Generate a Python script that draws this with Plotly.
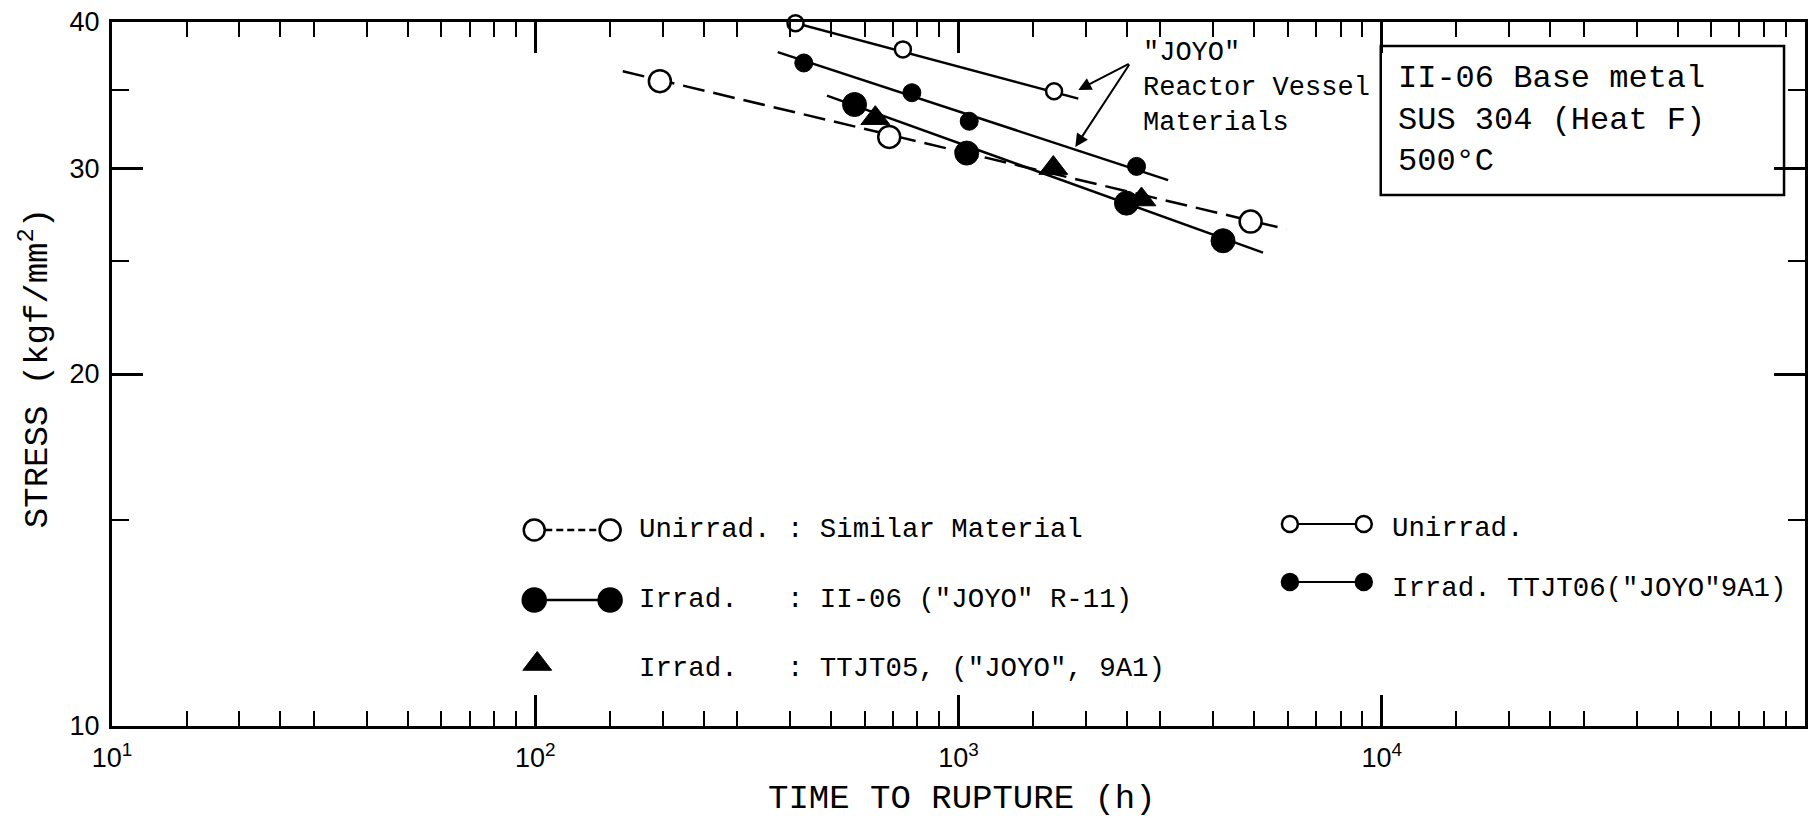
import plotly.graph_objects as go

# ---------------- data ----------------
# Unirradiated, similar material (large open circles, dashed fit)
sim_t = [197, 686, 4900]
sim_s = [35.6, 31.9, 27.0]
sim_fit_t = [161, 5950]
sim_fit_s = [36.3, 26.6]

# Unirradiated "JOYO" reactor vessel material (small open circles, solid fit)
joyo_unirr_t = [412, 739, 1682]
joyo_unirr_s = [39.9, 37.9, 34.9]
joyo_unirr_fit_t = [373, 1919]
joyo_unirr_fit_s = [40.3, 34.4]

# Irradiated TTJT06 ("JOYO" 9A1) (small filled circles, solid fit)
ttjt06_t = [431, 776, 1060, 2634]
ttjt06_s = [36.9, 34.8, 32.9, 30.1]
ttjt06_fit_t = [374, 3128]
ttjt06_fit_s = [37.7, 29.3]

# Irradiated II-06 ("JOYO" R-11) (large filled circles, solid fit)
ii06_t = [568, 1046, 2494, 4217]
ii06_s = [34.0, 30.9, 28.0, 26.0]
ii06_fit_t = [489, 5241]
ii06_fit_s = [34.6, 25.4]

# Irradiated TTJT05 ("JOYO", 9A1) (filled triangles)
ttjt05_t = [636, 1675, 2706]
ttjt05_s = [33.1, 30.0, 28.2]

x_major_vals = [10, 100, 1000, 10000]
x_major_text = ["10<sup>1</sup>", "10<sup>2</sup>", "10<sup>3</sup>", "10<sup>4</sup>"]
x_minor_mult = [1.5, 2, 2.5, 3, 4, 5, 6, 7, 8, 9]
y_major_vals = [10, 20, 30, 40]
y_major_text = ["10", "20", "30", "40"]
y_minor_vals = [15, 25, 35]

# ---------------- layout geometry (pixels) ----------------
W, H = 1815, 818
PL, PR, PT, PB = 112, 1808, 22, 726

def px(x):
    return (x - PL) / (PR - PL)

def py(y):
    return (PB - y) / (PB - PT)

MONO = "Liberation Mono, Courier New, monospace"
SANS = "Liberation Sans, Arial, sans-serif"
BLACK = "black"

fig = go.Figure()

# fitted lines
fig.add_trace(go.Scatter(x=sim_fit_t, y=sim_fit_s, mode="lines",
                         line=dict(color=BLACK, width=2.5, dash="22px,9px")))
fig.add_trace(go.Scatter(x=joyo_unirr_fit_t, y=joyo_unirr_fit_s, mode="lines",
                         line=dict(color=BLACK, width=2.5)))
fig.add_trace(go.Scatter(x=ttjt06_fit_t, y=ttjt06_fit_s, mode="lines",
                         line=dict(color=BLACK, width=2.5)))
fig.add_trace(go.Scatter(x=ii06_fit_t, y=ii06_fit_s, mode="lines",
                         line=dict(color=BLACK, width=2.5)))

# markers
fig.add_trace(go.Scatter(x=sim_t, y=sim_s, mode="markers", cliponaxis=False,
                         marker=dict(symbol="circle", size=22, color="white",
                                     line=dict(color=BLACK, width=2.5))))
fig.add_trace(go.Scatter(x=joyo_unirr_t, y=joyo_unirr_s, mode="markers", cliponaxis=False,
                         marker=dict(symbol="circle", size=16, color="white",
                                     line=dict(color=BLACK, width=2.5))))
fig.add_trace(go.Scatter(x=ttjt06_t, y=ttjt06_s, mode="markers", cliponaxis=False,
                         marker=dict(symbol="circle", size=18, color=BLACK,
                                     line=dict(color=BLACK, width=1))))
fig.add_trace(go.Scatter(x=ii06_t, y=ii06_s, mode="markers", cliponaxis=False,
                         marker=dict(symbol="circle", size=24, color=BLACK,
                                     line=dict(color=BLACK, width=1))))
fig.add_trace(go.Scatter(x=ttjt05_t, y=ttjt05_s, mode="markers", cliponaxis=False,
                         marker=dict(symbol="triangle-up", size=25, color=BLACK,
                                     line=dict(color=BLACK, width=1))))

# ---------------- legend glyphs (overlay axis in pixel units) ----------------
leg_rows = [
    # (x1, x2, y, symbol, size, fill, dash, width)
    (535, 611, 530, "circle", 21, "white", "7px,4px", 2.5),
    (535, 611, 600, "circle", 23, BLACK, "solid", 2.5),
    (1292, 1366, 524, "circle", 16, "white", "solid", 2),
    (1292, 1366, 582, "circle", 16, BLACK, "solid", 2),
]
for x1, x2, yy, sym, sz, fill, dash, lw in leg_rows:
    fig.add_trace(go.Scatter(x=[x1, x2], y=[yy, yy], mode="lines+markers",
                             xaxis="x2", yaxis="y2", cliponaxis=False,
                             line=dict(color=BLACK, width=lw, dash=dash),
                             marker=dict(symbol=sym, size=sz, color=fill,
                                         line=dict(color=BLACK, width=2.5))))
fig.add_trace(go.Scatter(x=[538], y=[664], mode="markers", xaxis="x2", yaxis="y2",
                         cliponaxis=False,
                         marker=dict(symbol="triangle-up", size=25, color=BLACK,
                                     line=dict(color=BLACK, width=1))))

annotations = []

def txt(x, y, s, size, xanchor="left", angle=0, family=MONO):
    annotations.append(dict(x=px(x), y=py(y), xref="paper", yref="paper", text=s,
                            showarrow=False, xanchor=xanchor, yanchor="middle",
                            align="left", textangle=angle, borderpad=0,
                            font=dict(family=family, size=size, color=BLACK)))

# legend texts
txt(639, 529, "Unirrad. : Similar Material", 27.4)
txt(639, 599, "Irrad.   : II-06 (\"JOYO\" R-11)", 27.4)
txt(639, 668, "Irrad.   : TTJT05, (\"JOYO\", 9A1)", 27.4)
txt(1393, 528, "Unirrad.", 27.4)
txt(1393, 588, "Irrad. TTJT06(\"JOYO\"9A1)", 27.4)

# JOYO annotation (one block of three lines)
txt(1144, 88, "\"JOYO\"<br>Reactor Vessel<br>Materials", 27)

# box text (one block of three lines)
txt(1399, 120, "II-06 Base metal<br>SUS 304 (Heat F)<br>500°C", 32)

# axis titles
txt(964, 799, "TIME TO RUPTURE (h)", 34, xanchor="center")
txt(35, 368, "STRESS (kgf/mm<sup>2</sup>)", 34, xanchor="center", angle=-90)

# arrows (tail at the "JOYO" label, heads at the two fitted lines)
TAIL = (1132, 63)
for hx, hy in [(1080, 90), (1077, 147)]:
    annotations.append(dict(x=px(hx), y=py(hy), xref="paper", yref="paper",
                            ax=TAIL[0] - hx, ay=TAIL[1] - hy, axref="pixel", ayref="pixel",
                            text="", showarrow=True, arrowhead=2, arrowsize=1.3,
                            arrowwidth=2, arrowcolor=BLACK, standoff=0, startstandoff=0))

shapes = [dict(type="rect", xref="paper", yref="paper",
               x0=px(1383), x1=px(1787), y0=py(195), y1=py(46),
               line=dict(color=BLACK, width=2.5), fillcolor="white", layer="below")]

x_minor_vals = [m * 10 ** k for k in range(1, 5) for m in x_minor_mult]

fig.update_layout(
    width=W, height=H,
    margin=dict(l=PL, r=W - PR, t=PT, b=H - PB),
    paper_bgcolor="white", plot_bgcolor="white",
    showlegend=False,
    annotations=annotations,
    shapes=shapes,
    xaxis=dict(type="log", range=[1, 5], showgrid=False, zeroline=False,
               showline=True, linecolor=BLACK, linewidth=3, mirror="ticks",
               ticks="inside", ticklen=31, tickwidth=2.5, tickcolor=BLACK,
               tickmode="array", tickvals=x_major_vals, ticktext=x_major_text,
               ticklabelstandoff=6,
               tickfont=dict(family=SANS, size=27, color=BLACK),
               minor=dict(ticks="inside", ticklen=15, tickwidth=2, tickcolor=BLACK,
                          tickmode="array", tickvals=x_minor_vals, showgrid=False)),
    yaxis=dict(type="log", range=[1, 1.60206], showgrid=False, zeroline=False,
               showline=True, linecolor=BLACK, linewidth=3, mirror="ticks",
               ticks="inside", ticklen=31, tickwidth=2.5, tickcolor=BLACK,
               tickmode="array", tickvals=y_major_vals, ticktext=y_major_text,
               ticklabelstandoff=4,
               tickfont=dict(family=SANS, size=27, color=BLACK),
               minor=dict(ticks="inside", ticklen=17, tickwidth=2, tickcolor=BLACK,
                          tickmode="array", tickvals=y_minor_vals, showgrid=False)),
    xaxis2=dict(overlaying="x", range=[PL, PR], visible=False, fixedrange=True),
    yaxis2=dict(overlaying="y", range=[PB, PT], visible=False, fixedrange=True),
)

fig.write_html("out.html")
